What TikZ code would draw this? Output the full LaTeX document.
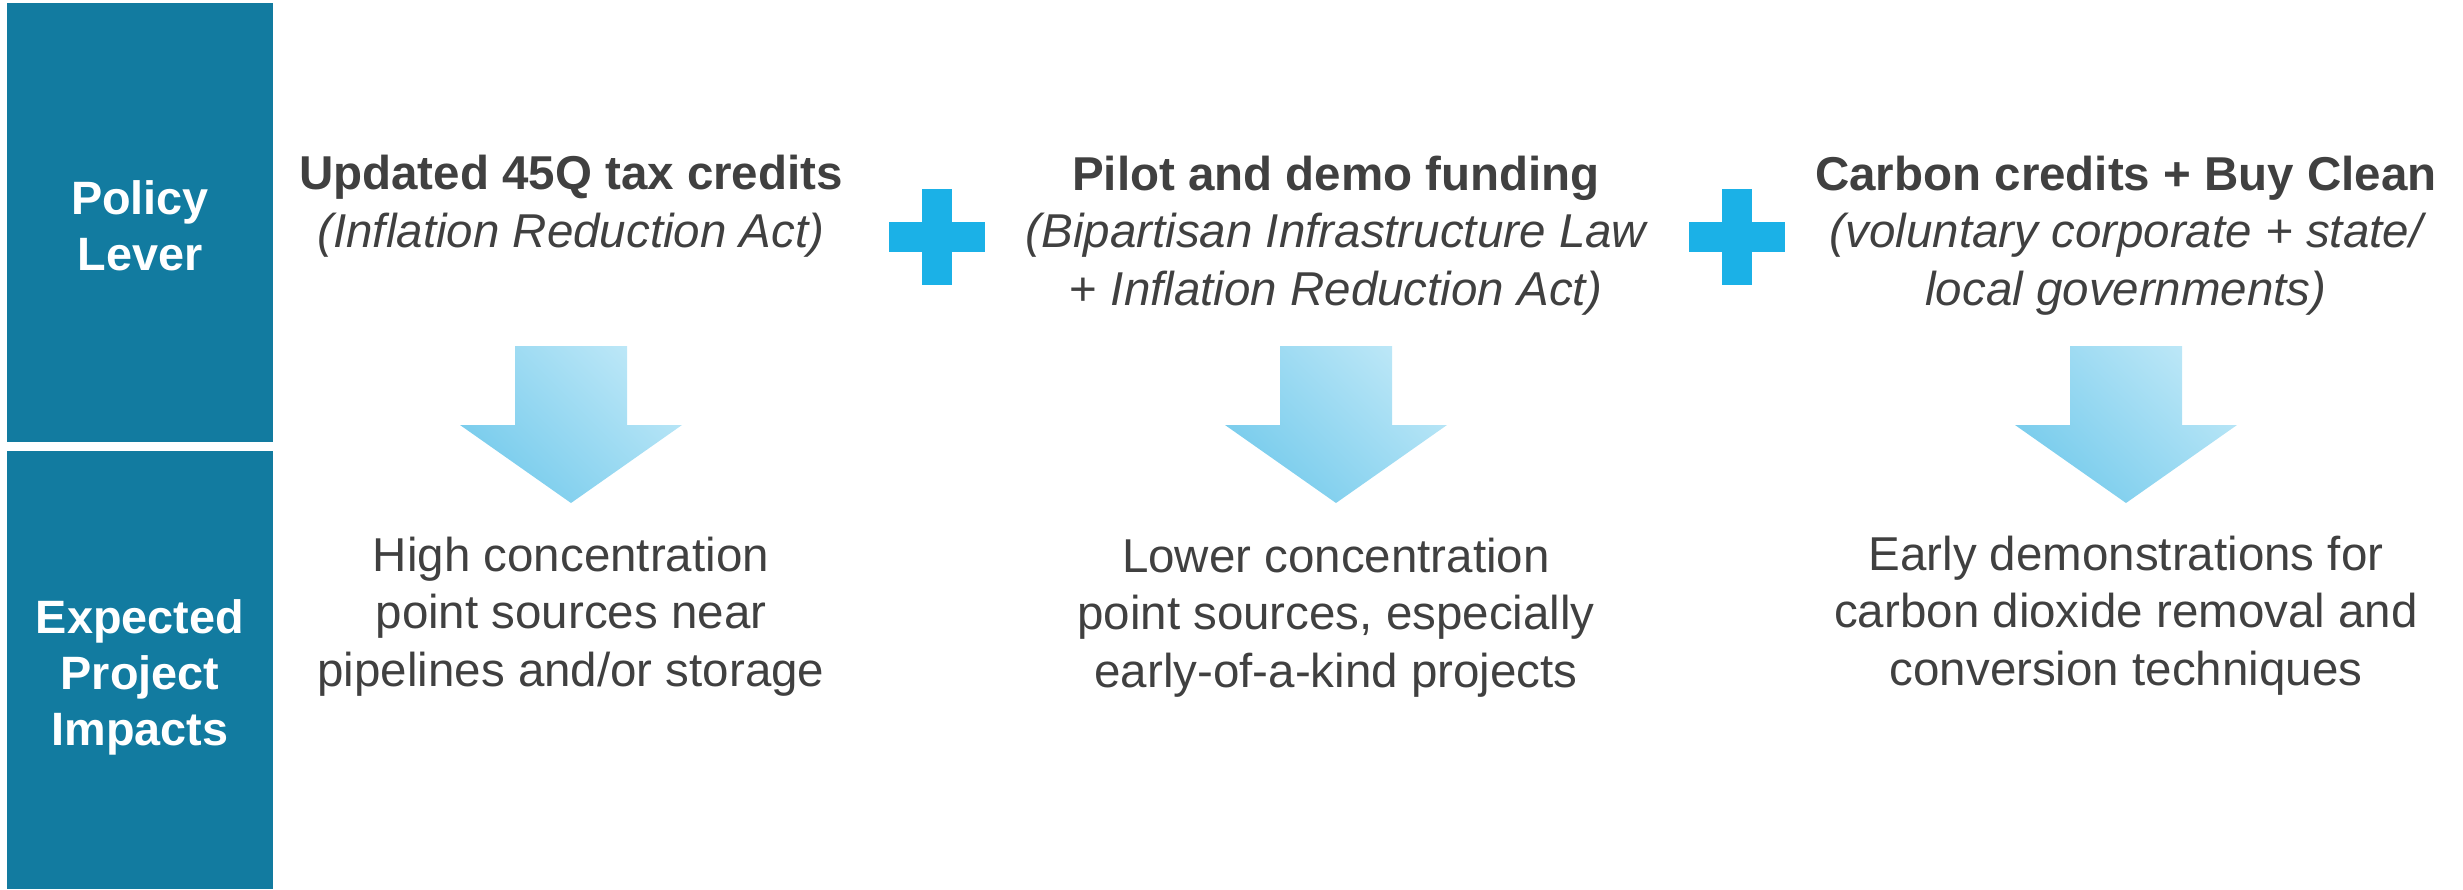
\documentclass[tikz,border=0pt]{standalone}
\usepackage{fontspec}
\setmainfont{Liberation Sans}
\begin{document}
\begin{tikzpicture}[x=0.5pt,y=-0.5pt,
  txt/.style={inner sep=0pt, align=center, anchor=base, text=textgray,
    font=\fontsize{23.75}{28.6}\selectfont},
  headtxt/.style={txt, font=\fontsize{23.75}{28.6}\selectfont\bfseries},
  bartxt/.style={txt, text=white, font=\fontsize{23.4}{27.8}\selectfont\bfseries},
  barbox/.style={fill=barblue},
  plusbar/.style={fill=plusblue},
  downarrow/.style={left color=arrowlight, right color=arrowdark, shading angle=-45}]
\definecolor{barblue}{RGB}{18,123,160}
\definecolor{plusblue}{RGB}{27,177,231}
\definecolor{textgray}{RGB}{64,64,64}
\definecolor{arrowdark}{RGB}{118,203,236}
\definecolor{arrowlight}{RGB}{188,231,247}
\useasboundingbox (0,0) rectangle (2463,889);

% row labels on the left (nodes are placed at the baseline of their last line)
\fill[barbox] (7,3) rectangle (273,442);
\fill[barbox] (7,451) rectangle (273,889);
\node[bartxt] (policy) at (140,270) {Policy\\Lever};
\node[bartxt] (impacts) at (140,745) {Expected\\Project\\Impacts};

% policy levers
\node[headtxt] (lev1) at (571,247) {Updated 45Q tax credits\\\mdseries\itshape(Inflation Reduction Act)};
\node[headtxt] (lev2) at (1336,305) {Pilot and demo funding\\\mdseries\itshape(Bipartisan Infrastructure Law\\\mdseries+ \itshape Inflation Reduction Act)};
\node[headtxt] (lev3) at (2126,305) {Carbon credits + Buy Clean\\\mdseries\itshape(voluntary corporate + state/\\\mdseries\itshape local governments)};

% plus signs between the levers
\foreach \cx in {937,1737} {
  \fill[plusbar] (\cx-48,222) rectangle (\cx+48,252);
  \fill[plusbar] (\cx-15,189) rectangle (\cx+15,285);
}

% block arrows from lever to impact
\foreach \cx in {571,1336,2126} {
  \shade[downarrow] (\cx-56,346) -- (\cx+56,346) -- (\cx+56,425) -- (\cx+111,425)
    -- (\cx,503) -- (\cx-111,425) -- (\cx-56,425) -- cycle;
}

% expected impacts
\node[txt] (imp1) at (571,686) {High concentration\\point sources near\\pipelines and/or storage};
\node[txt] (imp2) at (1336,687) {Lower concentration\\point sources, especially\\early-of-a-kind projects};
\node[txt] (imp3) at (2126,685) {Early demonstrations for\\carbon dioxide removal and\\conversion techniques};
\end{tikzpicture}
\end{document}
